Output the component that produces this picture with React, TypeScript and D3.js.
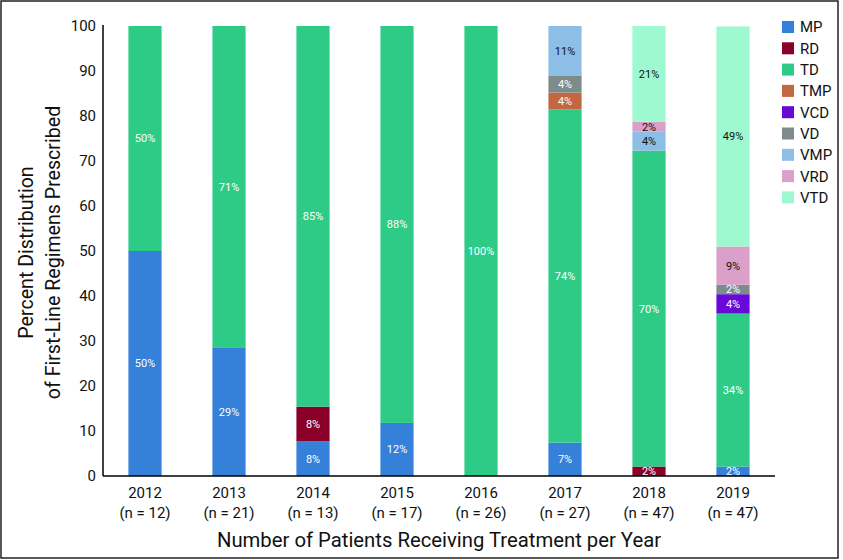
import React from "react";
import * as d3 from "d3";

const years = ["2012", "2013", "2014", "2015", "2016", "2017", "2018", "2019"];
const nLabels = ["(n = 12)", "(n = 21)", "(n = 13)", "(n = 17)", "(n = 26)", "(n = 27)", "(n = 47)", "(n = 47)"];
const regimens = ["MP", "RD", "TD", "TMP", "VCD", "VD", "VMP", "VRD", "VTD"];
const colors = ["#3580D8", "#8A0029", "#2ECB87", "#C4663F", "#6A08D8", "#7D8B8B", "#8DBEE5", "#DBA0C9", "#9EF9D0"];
const labelDark = [false, false, false, false, false, false, true, true, true];

const MP = [50, 28.6, 7.7, 11.8, 0, 7.4, 0, 2.1];
const RD = [0, 0, 7.7, 0, 0, 0, 2.1, 0];
const TD = [50, 71.4, 84.6, 88.2, 100, 74.1, 70.2, 34.0];
const TMP = [0, 0, 0, 0, 0, 3.7, 0, 0];
const VCD = [0, 0, 0, 0, 0, 0, 0, 4.3];
const VD = [0, 0, 0, 0, 0, 3.7, 0, 2.1];
const VMP = [0, 0, 0, 0, 0, 11.1, 4.3, 0];
const VRD = [0, 0, 0, 0, 0, 0, 2.1, 8.5];
const VTD = [0, 0, 0, 0, 0, 0, 21.3, 48.9];
const seriesValues = [MP, RD, TD, TMP, VCD, VD, VMP, VRD, VTD];
const yTicks = [0, 10, 20, 30, 40, 50, 60, 70, 80, 90, 100];

const W = 843, H = 560;
const left = 103, right = 775, top = 26, bottom = 476;
const FONT = "Roboto, 'Liberation Sans', sans-serif";

export default function App() {
  const rows = years.map((y, i) => {
    const r: any = { year: y };
    regimens.forEach((k, j) => (r[k] = seriesValues[j][i]));
    return r;
  });
  const stacked = d3.stack().keys(regimens)(rows);
  const x = d3.scaleBand().domain(years).range([left, right]).padding(0);
  const y = d3.scaleLinear().domain([0, 100]).range([bottom, top]);
  const barW = x.bandwidth() * 0.395;

  return (
    <svg width={W} height={H} style={{ position: "absolute", left: 0, top: 0, background: "#fff" }} fontFamily={FONT}>
      <rect x={1} y={1} width={837} height={557} fill="#fff" stroke="#222" strokeWidth={1.5} />
      {stacked.map((s, j) => (
        <g key={regimens[j]}>
          {s.map((d, i) => {
            const v = d[1] - d[0];
            if (v <= 0) return null;
            const cx = (x(years[i]) as number) + x.bandwidth() / 2;
            const y0 = y(d[0]);
            const y1 = y(d[1]);
            return (
              <g key={i}>
                <rect x={cx - barW / 2} y={y1} width={barW} height={y0 - y1} fill={colors[j]} />
                <text x={cx} y={(y0 + y1) / 2} dy="0.36em" textAnchor="middle" fontSize={11}
                  fill={labelDark[j] ? "#111" : "#fff"}>
                  {Math.round(v) + "%"}
                </text>
              </g>
            );
          })}
        </g>
      ))}
      <line x1={left} x2={left} y1={top - 1} y2={bottom} stroke="#000" strokeWidth={1.5} />
      <line x1={left} x2={right} y1={bottom} y2={bottom} stroke="#000" strokeWidth={1.5} />
      {yTicks.map((t) => (
        <text key={t} x={96} y={y(t)} dy="0.36em" textAnchor="end" fontSize={15} fill="#111">{t}</text>
      ))}
      {years.map((yr, i) => {
        const cx = (x(yr) as number) + x.bandwidth() / 2;
        return (
          <g key={yr}>
            <text x={cx} y={498} textAnchor="middle" fontSize={15} fill="#111">{yr}</text>
            <text x={cx} y={518} textAnchor="middle" fontSize={15} fill="#111">{nLabels[i]}</text>
          </g>
        );
      })}
      <text x={(left + right) / 2} y={547} textAnchor="middle" fontSize={20.3} fill="#111">
        Number of Patients Receiving Treatment per Year
      </text>
      <g transform={`translate(0, ${(top + bottom) / 2 + 1.5}) rotate(-90)`}>
        <text x={0} y={33} textAnchor="middle" fontSize={19.6} fill="#111">Percent Distribution</text>
        <text x={0} y={60} textAnchor="middle" fontSize={19.6} fill="#111">of First-Line Regimens Prescribed</text>
      </g>
      {regimens.map((r, j) => (
        <g key={r} transform={`translate(782, ${27 + j * 21.3})`}>
          <rect x={0} y={-6} width={12} height={12} fill={colors[j]} />
          <text x={18} y={0} dy="0.36em" fontSize={15} fill="#111">{r}</text>
        </g>
      ))}
    </svg>
  );
}
